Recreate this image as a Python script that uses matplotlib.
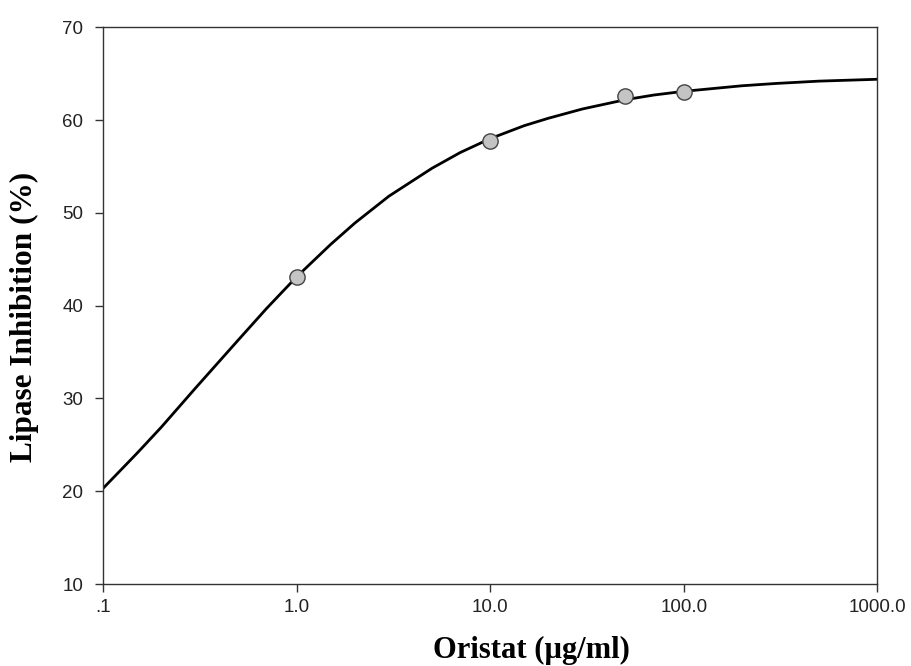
import matplotlib.pyplot as plt
import numpy as np

# fitted curve
curve_x = [0.1, 0.15, 0.2, 0.3, 0.5, 0.7, 1, 1.5, 2, 3, 5, 7, 10, 15, 20, 30, 50, 70, 100, 200, 300, 500, 1000]
curve_y = [20.3, 24.1, 26.9, 31.1, 36.3, 39.7, 43.1, 46.6, 48.9, 51.8, 54.8, 56.5, 58.0, 59.4, 60.2, 61.2, 62.2, 62.7, 63.1, 63.7, 63.95, 64.2, 64.4]

# measured points
dose = [1, 10, 50, 100]
inhibition = [43.1, 57.8, 62.6, 63.0]

x_ticks = [0.1, 1, 10, 100, 1000]
x_labels = ['.1', '1.0', '10.0', '100.0', '1000.0']
y_ticks = [10, 20, 30, 40, 50, 60, 70]

fig = plt.figure(figsize=(9.11, 6.66), dpi=100)
ax = fig.add_axes([0.113, 0.123, 0.850, 0.836])

ax.plot(curve_x, curve_y, color='black', lw=2.0, zorder=2)
ax.plot(dose, inhibition, 'o', ms=11, mfc='#c4c4c4', mec='#444444', mew=1.0, zorder=3)

ax.set_xscale('log')
ax.set_xlim(0.1, 1000)
ax.set_ylim(10, 70)
ax.set_xticks(x_ticks)
ax.set_xticklabels(x_labels)
ax.minorticks_off()
ax.set_yticks(y_ticks)

for s in ax.spines.values():
    s.set_color('#333333')
    s.set_linewidth(1.0)
ax.tick_params(direction='out', length=6, width=1, color='#333333',
               labelsize=13.5, labelcolor='#222222')
ax.tick_params(axis='y', pad=8)
ax.tick_params(axis='x', pad=5)
for lab in ax.get_xticklabels() + ax.get_yticklabels():
    lab.set_family('Liberation Sans')

ax.set_xlabel('Oristat (µg/ml)', family='Liberation Serif', fontweight='bold', fontsize=22)
ax.set_ylabel('Lipase Inhibition (%)', family='Liberation Serif', fontweight='bold', fontsize=22.5)
ax.xaxis.set_label_coords(0.554, -0.093)
ax.yaxis.set_label_coords(-0.083, 0.479)

plt.savefig('out.png', dpi=100)
